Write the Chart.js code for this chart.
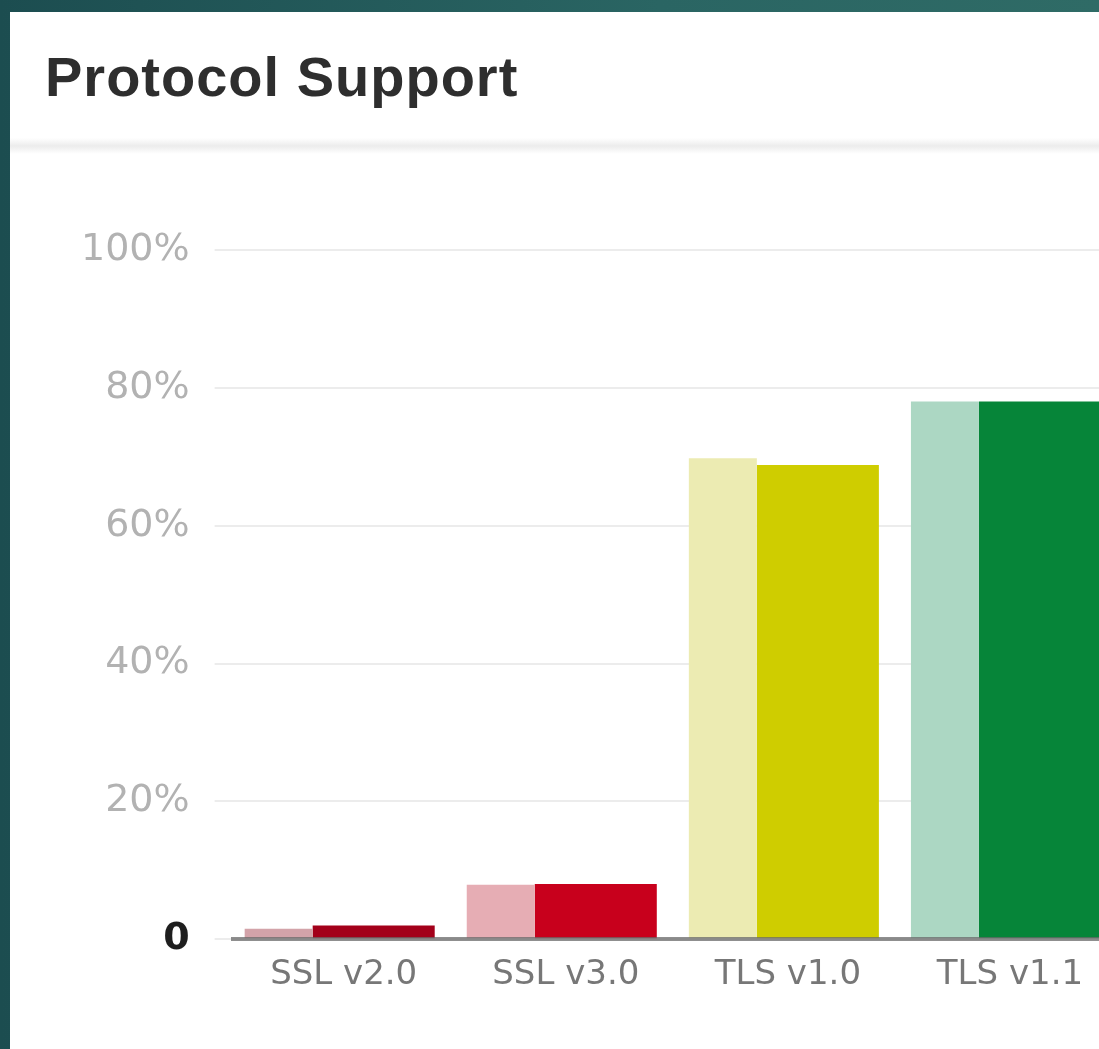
<!DOCTYPE html>
<html lang="en">
<head>
  <meta charset="UTF-8">
  <title>Protocol Support</title>
  <script src="https://cdn.jsdelivr.net/npm/chart.js"></script>
  <style>
    html, body {
      margin: 0;
      width: 1099px;
      height: 1049px;
      overflow: hidden;
    }
    body {
      background: linear-gradient(90deg, #1c4d50 0%, #2a6563 60%, #2f6b66 100%);
      position: relative;
    }
    .panel {
      position: absolute;
      left: 10px;
      top: 12px;
      width: 1200px;
      height: 1100px;
      background: #ffffff;
    }
    .panel h2 {
      position: absolute;
      left: 35px;
      top: 37px;
      margin: 0;
      font-family: 'Liberation Sans', Arial, sans-serif;
      font-weight: bold;
      font-size: 56px;
      line-height: 56px;
      letter-spacing: 1px;
      color: #2e2e2e;
    }
    .panel .rule {
      position: absolute;
      left: 0;
      right: 0;
      top: 126px;
      height: 16px;
      background: linear-gradient(180deg, rgba(236,236,236,0) 0%, #ececec 50%, rgba(236,236,236,0) 100%);
    }
    #protocols {
      position: absolute;
      left: 0;
      top: 138px;
    }
  </style>
</head>
<body>
  <div class="panel">
    <h2>Protocol Support</h2>
    <div class="rule"></div>
    <canvas id="protocols" width="1112" height="872"></canvas>
  </div>
  <script>
    const protocols = ['SSL v2.0', 'SSL v3.0', 'TLS v1.0', 'TLS v1.1'];
    const previousShare = [1.5, 7.9, 69.8, 78.0];
    const currentShare = [2.0, 8.0, 68.8, 78.0];
    const yTickLabels = ['0', '20%', '40%', '60%', '80%', '100%'];

    const previousColors = ['#d3a3a9', '#e6adb4', '#ecebb2', '#acd7c3'];
    const currentColors = ['#a3001a', '#c8001c', '#cfcd00', '#068539'];

    const tickFamily = "'DejaVu Sans', sans-serif";

    new Chart(document.getElementById('protocols'), {
      type: 'bar',
      data: {
        labels: protocols,
        datasets: [
          {
            label: 'Previous',
            data: previousShare,
            backgroundColor: previousColors,
            borderWidth: 0,
            categoryPercentage: 1.171,
            barPercentage: 0.523
          },
          {
            label: 'Current',
            data: currentShare,
            backgroundColor: currentColors,
            borderWidth: 0,
            categoryPercentage: 0.5405,
            barPercentage: 2.033
          }
        ]
      },
      options: {
        responsive: false,
        animation: false,
        layout: { padding: { left: 46, top: 100, right: 1, bottom: 10 } },
        plugins: {
          legend: { display: false },
          tooltip: { enabled: false }
        },
        scales: {
          x: {
            grid: { display: false, drawTicks: false },
            border: { display: true, color: 'rgba(105,105,105,0.75)', width: 4, z: 1 },
            ticks: {
              color: '#777777',
              padding: 16,
              font: { family: tickFamily, size: 34 }
            }
          },
          y: {
            min: 0,
            max: 100,
            grid: { color: '#ececec', lineWidth: 2, tickLength: 18 },
            border: { display: false },
            ticks: {
              stepSize: 20,
              padding: 25,
              callback: (v, i) => yTickLabels[i],
              color: ctx => ctx.tick && ctx.tick.value === 0 ? '#1e1e1e' : '#b2b2b2',
              font: ctx => ctx.tick && ctx.tick.value === 0
                ? { family: tickFamily, size: 38, weight: 'bold' }
                : { family: tickFamily, size: 38 }
            }
          }
        }
      }
    });
  </script>
</body>
</html>
